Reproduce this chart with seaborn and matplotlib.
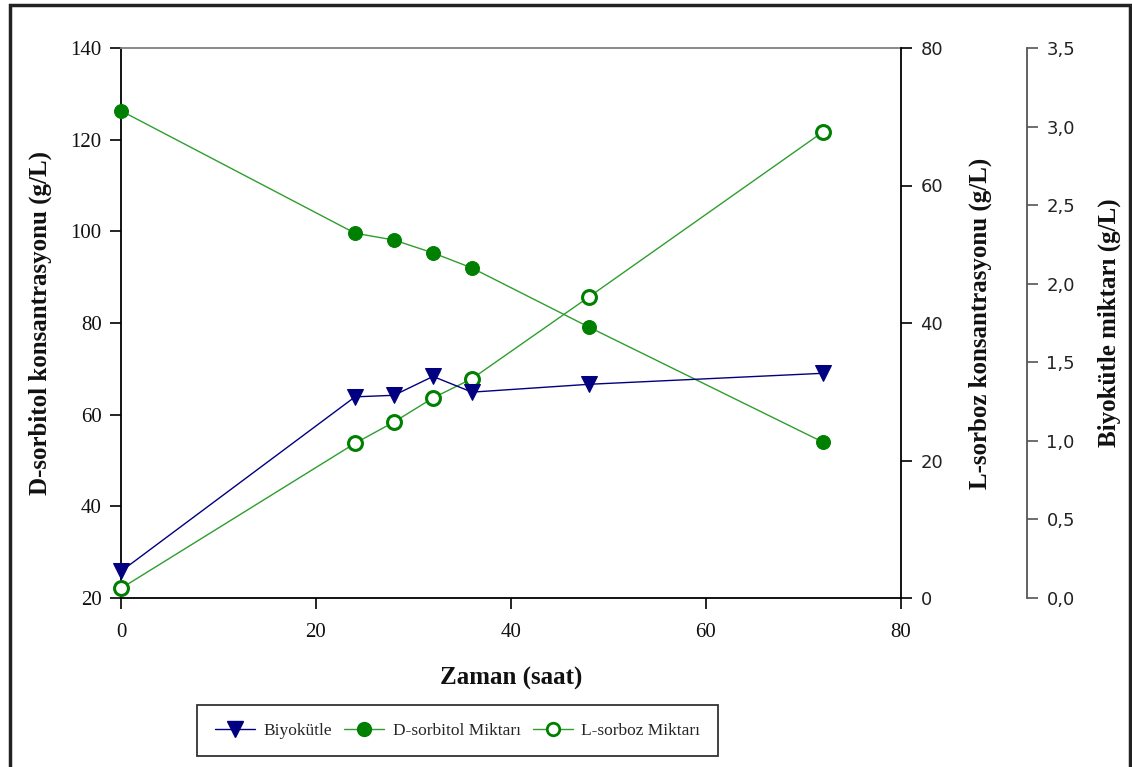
import matplotlib
matplotlib.use("Agg")
import matplotlib.pyplot as plt
import matplotlib.ticker as mticker
from matplotlib.patches import Rectangle
from matplotlib.lines import Line2D
import seaborn as sns
import pandas as pd

# ---- data ----
time_h = [0, 24, 28, 32, 36, 48, 72]
biyokutle = [0.17, 1.28, 1.29, 1.41, 1.31, 1.36, 1.43]
d_sorbitol = [126.3, 99.6, 98.1, 95.3, 92.0, 79.1, 54.0]
l_sorboz = [1.4, 22.5, 25.6, 29.1, 31.9, 43.8, 67.8]
series_names = ["Biyokütle", "D-sorbitol Miktarı", "L-sorboz Miktarı"]

df = pd.DataFrame({"t": time_h, "bio": biyokutle, "ds": d_sorbitol, "ls": l_sorboz})

sns.set_theme(style="white")
plt.rcParams["font.family"] = ["Liberation Serif", "DejaVu Serif"]

W, H = 1132, 767
fig = plt.figure(figsize=(W / 100, H / 100), dpi=100)
ax = fig.add_axes([121 / W, 1 - 598 / H, (901 - 121) / W, (598 - 48) / H])
ax2 = ax.twinx()
ax3 = ax.twinx()

navy = "#000080"
green_m = "#008000"
green_l = "#2E9E2E"

sns.lineplot(data=df, x="t", y="ds", ax=ax, color=green_l, lw=1.0, marker="o",
             markersize=10, markerfacecolor=green_m, markeredgecolor=green_m, zorder=3,
             clip_on=False)
sns.lineplot(data=df, x="t", y="ls", ax=ax2, color=green_l, lw=1.0, marker="o",
             markersize=10, markerfacecolor="white", markeredgecolor=green_m,
             markeredgewidth=2.2, zorder=3, clip_on=False)
sns.lineplot(data=df, x="t", y="bio", ax=ax3, color=navy, lw=1.0, marker="v",
             markersize=11, markerfacecolor=navy, markeredgecolor=navy, zorder=4,
             clip_on=False)

# limits and ticks
ax.set_xlim(0, 80)
ax.set_ylim(20, 140)
ax.set_xticks([0, 20, 40, 60, 80])
ax.set_yticks([20, 40, 60, 80, 100, 120, 140])
ax2.set_ylim(0, 80)
ax2.set_yticks([0, 20, 40, 60, 80])
ax3.set_ylim(0, 3.5)
ax3.set_yticks([0, 0.5, 1.0, 1.5, 2.0, 2.5, 3.0, 3.5])
ax3.yaxis.set_major_formatter(mticker.FuncFormatter(lambda v, p: f"{v:.1f}".replace(".", ",")))

# spines
for a in (ax, ax2, ax3):
    for s in a.spines.values():
        s.set_visible(False)
ax.spines["left"].set_visible(True)
ax.spines["bottom"].set_visible(True)
ax.spines["top"].set_visible(True)
ax.spines["top"].set_color("#808080")
ax.spines["left"].set_color("black")
ax.spines["bottom"].set_color("black")
ax2.spines["right"].set_visible(True)
ax2.spines["right"].set_color("black")
ax3.spines["right"].set_visible(True)
ax3.spines["right"].set_position(("axes", (1027 - 121) / (901 - 121)))
ax3.spines["right"].set_color("#555555")
for a in (ax, ax2, ax3):
    for s in a.spines.values():
        s.set_linewidth(1.3)

ax.tick_params(axis="y", direction="out", length=8, width=1.2, color="black",
               labelsize=15, pad=6, left=True)
ax.tick_params(axis="x", direction="out", length=8, width=1.2, color="black",
               labelsize=15, pad=10, bottom=True)
ax2.tick_params(axis="y", direction="out", length=8, width=1.2, color="black",
                labelsize=14, pad=6, right=True)
ax3.tick_params(axis="y", direction="out", length=8, width=1.2, color="#555555",
                labelsize=14, pad=6, right=True)
for lab in ax.get_xticklabels() + ax.get_yticklabels():
    lab.set_color("#111111")
for lab in ax2.get_yticklabels() + ax3.get_yticklabels():
    lab.set_fontfamily("DejaVu Sans")
    lab.set_fontsize(13)
    lab.set_color("#222222")

lblkw = dict(fontsize=18, fontweight="bold", family="Liberation Serif", color="#111111")
ax.set_xlabel("Zaman (saat)", **lblkw)
ax.set_ylabel("D-sorbitol konsantrasyonu (g/L)", **lblkw)
ax2.set_ylabel("L-sorboz konsantrasyonu (g/L)", **lblkw)
ax3.set_ylabel("Biyokütle miktarı (g/L)", **lblkw)
ax.xaxis.set_label_coords(0.5, -0.125)
ax.yaxis.set_label_coords(-0.088, 0.5)
ax2.yaxis.set_label_coords(1.086, 0.5)
ax3.yaxis.set_label_coords(1.2526, 0.5)

for a in (ax, ax2, ax3):
    a.grid(False)
    leg = a.get_legend()
    if leg:
        leg.remove()
    a.set_facecolor("none")

handles = [
    Line2D([], [], color=navy, lw=1.0, marker="v", markersize=11,
           markerfacecolor=navy, markeredgecolor=navy),
    Line2D([], [], color=green_l, lw=1.0, marker="o", markersize=10,
           markerfacecolor=green_m, markeredgecolor=green_m),
    Line2D([], [], color=green_l, lw=1.0, marker="o", markersize=9,
           markerfacecolor="white", markeredgecolor=green_m, markeredgewidth=2.0),
]
leg = fig.legend(handles, series_names, loc="center", bbox_to_anchor=(457.5 / W, 1 - 730.5 / H),
                 ncol=3, frameon=True, fancybox=False, shadow=False, fontsize=12.5,
                 handlelength=2.3, columnspacing=0.7, handletextpad=0.5,
                 borderpad=1.0)
leg.get_frame().set_edgecolor("black")
leg.get_frame().set_linewidth(1.3)

# outer frame
fig.patches.append(Rectangle((10 / W, -0.01), (1130 - 10) / W, 1 - 5 / H + 0.01,
                             transform=fig.transFigure, fill=False,
                             edgecolor="#222222", linewidth=2.5))

fig.savefig("out.png", dpi=100)
